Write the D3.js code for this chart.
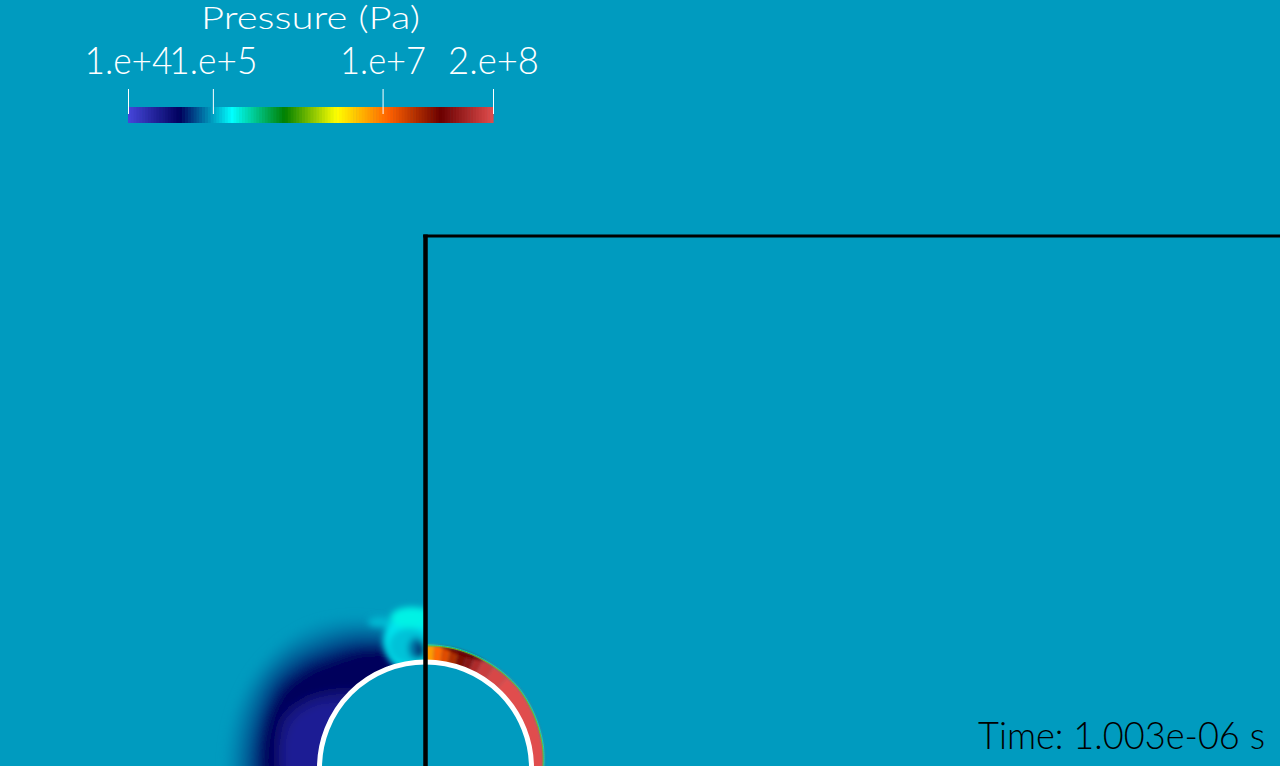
<!DOCTYPE html>
<html><head><meta charset="utf-8">
<script src="https://cdn.jsdelivr.net/npm/d3@7"></script>
<style>html,body{margin:0;padding:0;overflow:hidden;background:#009cb9}svg{display:block}</style>
</head><body>
<svg id="chart" width="1280" height="766"></svg>
<script>
// ---------------- data ----------------
const pressureDomain = [1e4, 2e8];
const tickValues = [1e4, 1e5, 1e7, 2e8];
const tickLabels = ["1.e+4", "1.e+5", "1.e+7", "2.e+8"];
const legendTitle = "Pressure (Pa)";
const timeLabel = "Time: 1.003e-06 s";
const ambientPressure = 9.7e4;
// ParaView "Rainbow Desaturated"
const colormapStops = [0, 0.143, 0.285, 0.429, 0.571, 0.714, 0.857, 1];
const colormapColors = ["#4747db", "#00005c", "#00ffff", "#008000", "#ffff00", "#ff6100", "#6b0000", "#e04d4d"];
const colorbarSamples = 128;

// geometry in bubble radii, bubble centre at origin
const bubbleRadius = 1;
const wallX = 0;
const boxTop = 5.02;

// rarefaction (low pressure) region left of the wall: contour radius per angle
const rarefactionAngles = [85, 90, 100, 110, 120, 130, 140, 150, 160, 170, 180, 190];
const rarefactionLevels = [
  {p: 9.0e4, r: [1.28, 1.28, 1.36, 1.49, 1.62, 1.73, 1.80, 1.85, 1.87, 1.88, 1.88, 1.88]},
  {p: 8.0e4, r: [1.22, 1.22, 1.30, 1.42, 1.54, 1.64, 1.73, 1.78, 1.80, 1.80, 1.80, 1.80]},
  {p: 6.8e4, r: [1.16, 1.16, 1.23, 1.35, 1.46, 1.55, 1.65, 1.71, 1.72, 1.72, 1.72, 1.72]},
  {p: 5.6e4, r: [1.10, 1.10, 1.16, 1.27, 1.37, 1.46, 1.56, 1.63, 1.64, 1.64, 1.64, 1.64]},
  {p: 4.6e4, r: [1.06, 1.06, 1.11, 1.21, 1.30, 1.38, 1.48, 1.56, 1.58, 1.58, 1.57, 1.57]},
  {p: 4.1e4, r: [1.03, 1.03, 1.07, 1.16, 1.24, 1.31, 1.41, 1.50, 1.53, 1.53, 1.52, 1.52]},
  {p: 2.8e4, r: [0.80, 0.80, 0.80, 0.80, 0.85, 0.95, 1.12, 1.30, 1.42, 1.42, 1.40, 1.40]},
  {p: 2.2e4, r: [0.80, 0.80, 0.80, 0.80, 0.80, 0.80, 0.95, 1.18, 1.32, 1.34, 1.32, 1.32]}
];

// cavity pocket next to the wall (left side)
const pocketBlobs = [
  {p: 1.45e5, cx: -0.024, cy: 1.19, rx: 0.377, ry: 0.32},
  {p: 1.2e5, cx: -0.15, cy: 1.15, rx: 0.2, ry: 0.17},
  {p: 1.15e5, cx: -0.43, cy: 1.377, rx: 0.113, ry: 0.047},
  {p: 1.95e5, cx: -0.13, cy: 1.42, rx: 0.2, ry: 0.1},
  {p: 7.5e4, cx: -0.09, cy: 1.13, rx: 0.07, ry: 0.1},
  {p: 4.5e4, cx: -0.045, cy: 1.113, rx: 0.035, ry: 0.08}
];

// shock band right of the wall
const shockBoundaryAngles = [95, 86, 82, 78, 74, 70, 66, 62, 56, 48, -10];
const shockPressures = [7e6, 1.1e7, 1.6e7, 2.5e7, 4e7, 7e7, 1.1e8, 1.5e8, 1.8e8, 2e8];
const shockFrontAngles = [-10, 0, 10, 22, 40, 60, 77, 90, 95];
const shockFrontRadius = [1.10, 1.11, 1.125, 1.136, 1.155, 1.156, 1.16, 1.155, 1.155];
const shockDarkLayer = {p: 5e7, from: 60, to: 84, depth: 0.05};
const shockFringe = [{p: 1.5e6, offset: -0.003}, {p: 2.4e5, offset: 0.006}];

// ---------------- drawing ----------------
const W = 1280, H = 766;
const unit = 106;
const x = d3.scaleLinear().domain([0, 1]).range([425.5, 425.5 + unit]);
const y = d3.scaleLinear().domain([0, 1]).range([768, 768 - unit]);
const tScale = d3.scaleLog().domain(pressureDomain).range([0, 1]).clamp(true);
const cmap = d3.scaleLinear().domain(colormapStops).range(colormapColors).interpolate(d3.interpolateRgb);
const color = p => cmap(tScale(p));
const rad = d => d * Math.PI / 180;
const pt = (r, deg) => [x(r * Math.cos(rad(deg))), y(r * Math.sin(rad(deg)))];

const svg = d3.select("#chart");
const defs = svg.append("defs");

function blurFilter(id, sd) {
  defs.append("filter").attr("id", id)
    .attr("x", "-30%").attr("y", "-30%").attr("width", "160%").attr("height", "160%")
    .append("feGaussianBlur").attr("stdDeviation", sd);
}
blurFilter("blurWide", 5);
blurFilter("blurMid", 3);
blurFilter("blurShock", 1.8);

const cx0 = x(0), cy0 = y(0), rPix = x(bubbleRadius) - x(0);
const circlePath = `M${cx0 - rPix},${cy0}a${rPix},${rPix} 0 1,0 ${2 * rPix},0a${rPix},${rPix} 0 1,0 ${-2 * rPix},0Z`;
defs.append("clipPath").attr("id", "clipLeft").append("path")
  .attr("clip-rule", "evenodd")
  .attr("d", `M0,0H${x(wallX)}V${H}H0Z` + circlePath);
defs.append("clipPath").attr("id", "clipRight").append("path")
  .attr("clip-rule", "evenodd")
  .attr("d", `M${x(wallX)},0H${W}V${H}H${x(wallX)}Z` + circlePath);

// background (ambient pressure field)
svg.append("rect").attr("width", W).attr("height", H).attr("fill", color(ambientPressure));

// left side: rarefaction crescent
const outerLine = d3.line().curve(d3.curveCatmullRom.alpha(0.5));
const gLeft = svg.append("g").attr("clip-path", "url(#clipLeft)");
const gCres = gLeft.append("g").attr("filter", "url(#blurWide)");
gCres.selectAll("path").data(rarefactionLevels).join("path")
  .attr("fill", d => color(d.p))
  .attr("d", d => {
    const outer = rarefactionAngles.map((a, i) => pt(d.r[i], a));
    const inner = rarefactionAngles.slice().reverse().map(a => pt(0.85, a));
    return outerLine(outer) + "L" + inner.map(q => q.join(",")).join("L") + "Z";
  });
const gPocket = gLeft.append("g").attr("filter", "url(#blurMid)");
gPocket.selectAll("ellipse").data(pocketBlobs).join("ellipse")
  .attr("cx", d => x(d.cx)).attr("cy", d => y(d.cy))
  .attr("rx", d => x(d.rx) - x(0)).attr("ry", d => y(0) - y(d.ry))
  .attr("fill", d => color(d.p));

// right side: shock band
const frontR = d3.scaleLinear().domain(shockFrontAngles).range(shockFrontRadius);
const gRight = svg.append("g").attr("clip-path", "url(#clipRight)");
const gShock = gRight.append("g").attr("filter", "url(#blurShock)");
const segs = shockPressures.map((p, i) => ({p, a0: shockBoundaryAngles[i + 1], a1: shockBoundaryAngles[i]}));
const lin = d3.line();
function bandPath(a0, a1, rIn, rOut) {
  const angs = d3.range(a0, a1, 1).concat([a1]);
  const outer = angs.map(a => pt(rOut(a), a));
  const inner = angs.slice().reverse().map(a => pt(rIn(a), a));
  return lin(outer.concat(inner)) + "Z";
}
gShock.selectAll("path.seg").data(segs).join("path").attr("class", "seg")
  .attr("fill", d => color(d.p))
  .attr("d", d => bandPath(d.a0, d.a1, () => 0.97, a => frontR(a)));
gShock.append("path")
  .attr("fill", color(shockDarkLayer.p))
  .attr("d", bandPath(shockDarkLayer.from, shockDarkLayer.to,
    a => frontR(a) - shockDarkLayer.depth * Math.sin(rad((a - shockDarkLayer.from) / (shockDarkLayer.to - shockDarkLayer.from) * 180)),
    a => frontR(a) - 0.004));
const fringeLine = d3.line().curve(d3.curveCatmullRom);
gRight.selectAll("path.fringe").data(shockFringe).join("path").attr("class", "fringe")
  .attr("fill", "none").attr("stroke", d => color(d.p)).attr("stroke-width", 1)
  .attr("stroke-opacity", 0.85)
  .attr("d", d => fringeLine(d3.range(-10, 96, 1).map(a => pt(frontR(a) + d.offset, a))));

// bubble interior and outline
svg.append("circle").attr("cx", cx0).attr("cy", cy0).attr("r", rPix)
  .attr("fill", color(ambientPressure)).attr("stroke", "#ffffff").attr("stroke-width", 5);

// wall / box
svg.append("line").attr("x1", x(wallX)).attr("x2", x(wallX))
  .attr("y1", y(boxTop) - 1.5).attr("y2", H + 2)
  .attr("stroke", "#000").attr("stroke-width", 4.5);
svg.append("line").attr("x1", x(wallX) - 2.25).attr("x2", W + 2)
  .attr("y1", y(boxTop)).attr("y2", y(boxTop))
  .attr("stroke", "#000").attr("stroke-width", 3);

// ---------------- legend ----------------
const fontFam = "Lato, 'Open Sans', 'DejaVu Sans', sans-serif";
const barX = d3.scaleLog().domain(pressureDomain).range([128, 493]);
const gLeg = svg.append("g");
gLeg.selectAll("rect").data(d3.range(colorbarSamples)).join("rect")
  .attr("x", i => barX(tScale.invert(i / colorbarSamples)))
  .attr("width", i => barX(tScale.invert((i + 1) / colorbarSamples)) - barX(tScale.invert(i / colorbarSamples)) + 0.6)
  .attr("y", 107).attr("height", 16)
  .attr("fill", i => cmap((i + 0.5) / colorbarSamples));

const axis = d3.axisTop(barX).tickValues(tickValues)
  .tickFormat((d, i) => tickLabels[i]).tickSize(25).tickPadding(15);
const gAx = gLeg.append("g").attr("transform", "translate(0,114)").call(axis);
gAx.select(".domain").remove();
gAx.selectAll(".tick line").attr("stroke", "#fff").attr("stroke-width", 1);
const labelW = [88, 88, 86, 91];
gAx.selectAll(".tick text")
  .attr("fill", "#fff").attr("font-size", 38).attr("font-family", fontFam).attr("font-weight", 300)
  .attr("textLength", (d, i) => labelW[i]).attr("lengthAdjust", "spacingAndGlyphs");
gAx.attr("font-size", null).attr("font-family", null);

gLeg.append("text").attr("x", (barX.range()[0] + barX.range()[1]) / 2).attr("y", 29)
  .attr("text-anchor", "middle").attr("fill", "#fff")
  .attr("font-size", 31).attr("font-family", fontFam).attr("font-weight", 300)
  .attr("textLength", 219).attr("lengthAdjust", "spacingAndGlyphs")
  .text(legendTitle);

svg.append("text").attr("x", 1265).attr("y", 749).attr("text-anchor", "end")
  .attr("fill", "#000").attr("font-size", 38).attr("font-family", fontFam).attr("font-weight", 300)
  .attr("textLength", 287).attr("lengthAdjust", "spacingAndGlyphs")
  .text(timeLabel);
</script>
</body></html>
